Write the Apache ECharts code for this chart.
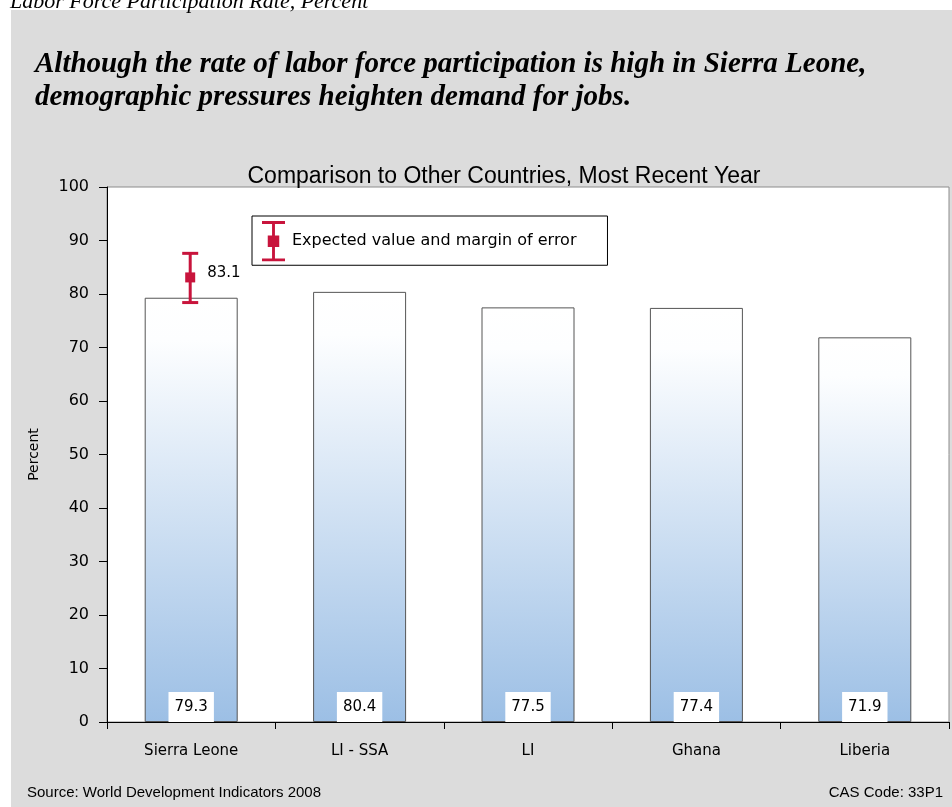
<!DOCTYPE html>
<html>
<head>
<meta charset="utf-8">
<script src="https://cdn.jsdelivr.net/npm/echarts@6/dist/echarts.min.js"></script>
<style>
  html, body { margin: 0; padding: 0; background: #ffffff; }
  #chart { width: 952px; height: 807px; }
</style>
</head>
<body>
<div id="chart"></div>
<script>
// Labor force participation, most recent year
var categories = ['Sierra Leone', 'LI - SSA', 'LI', 'Ghana', 'Liberia'];
var participation = [79.3, 80.4, 77.5, 77.4, 71.9];

// Expected value for Sierra Leone with its margin of error
var expectedValue = [83.1, '-', '-', '-', '-'];
var expectedLow = [78.4, '-', '-', '-', '-'];
var expectedHigh = [87.6, '-', '-', '-', '-'];

var yTicks = { min: 0, max: 100, interval: 10 };

var crimson = '#C8143C';
var labelFont = 'DejaVu Sans';

var errorData = categories.map(function (c, i) {
  return [i, expectedValue[i], expectedLow[i], expectedHigh[i]];
}).filter(function (d) { return d[1] !== '-'; });

// I-beam marker used in the legend
var errorIcon = 'path://M0,0H24V3H0Z M10.5,0H13.5V42H10.5Z M6,15H18V27H6Z M0,39H24V42H0Z';

var chart = echarts.init(document.getElementById('chart'), null, { renderer: 'canvas' });

chart.setOption({
  backgroundColor: '#ffffff',
  animation: false,
  graphic: [
    { type: 'rect', silent: true, z: -10,
      shape: { x: 11, y: 10, width: 941, height: 797 },
      style: { fill: '#DCDCDC' } },
    { type: 'text', left: 10, top: -9, z: 10,
      style: { text: 'Labor Force Participation Rate, Percent',
        font: 'italic 22px "Liberation Serif", "Times New Roman", serif', fill: '#000' } },
    { type: 'text', left: 35, top: 48, z: 10,
      style: { text: 'Although the rate of labor force participation is high in Sierra Leone,\ndemographic pressures heighten demand for jobs.',
        font: 'italic bold 29px "Liberation Serif", "Times New Roman", serif', lineHeight: 33, fill: '#000' } },
    { type: 'text', left: 27, top: 785, z: 10,
      style: { text: 'Source: World Development Indicators 2008',
        font: '15px "Liberation Sans", Arial, sans-serif', fill: '#000' } },
    { type: 'text', right: 9, top: 785, z: 10,
      style: { text: 'CAS Code: 33P1',
        font: '15px "Liberation Sans", Arial, sans-serif', fill: '#000' } }
  ],
  title: {
    text: 'Comparison to Other Countries, Most Recent Year',
    left: 499, top: 160, textAlign: 'center',
    textStyle: { fontFamily: 'Liberation Sans', fontSize: 23, fontWeight: 'normal', color: '#000' }
  },
  legend: {
    left: 252, top: 216,
    padding: [5, 31, 4, 10],
    backgroundColor: '#ffffff',
    borderColor: '#000', borderWidth: 1, borderRadius: 0,
    itemWidth: 23, itemHeight: 42, itemGap: 0,
    selectedMode: false,
    data: [{ name: 'Expected value and margin of error', icon: errorIcon,
      itemStyle: { color: crimson } }],
    textStyle: { fontFamily: labelFont, fontSize: 16, color: '#000', padding: [0, 0, 0, 2] }
  },
  grid: {
    left: 107, right: 3, top: 187, bottom: 85,
    show: true, backgroundColor: '#ffffff', borderColor: '#8c8c8c', borderWidth: 1
  },
  xAxis: {
    type: 'category',
    data: categories,
    axisLine: { lineStyle: { color: '#000', width: 1 } },
    axisTick: { show: true, length: 7, lineStyle: { color: '#000' } },
    axisLabel: { margin: 22, fontFamily: labelFont, fontSize: 15, color: '#000' },
    splitLine: { show: false }
  },
  yAxis: {
    type: 'value',
    min: yTicks.min, max: yTicks.max, interval: yTicks.interval,
    name: 'Percent', nameLocation: 'middle', nameGap: 66, nameRotate: 90,
    nameTextStyle: { fontFamily: labelFont, fontSize: 14, color: '#000' },
    axisLine: { show: true, lineStyle: { color: '#000', width: 1 } },
    axisTick: { show: true, length: 8, lineStyle: { color: '#000' } },
    axisLabel: { margin: 18, fontFamily: labelFont, fontSize: 16, color: '#000' },
    splitLine: { show: false }
  },
  series: [
    {
      name: 'Participation',
      type: 'bar',
      data: participation,
      barWidth: 93,
      itemStyle: {
        borderColor: '#555', borderWidth: 1,
        color: new echarts.graphic.LinearGradient(0, 0, 0, 1, [
          { offset: 0, color: '#ffffff' },
          { offset: 0.1, color: '#fdfeff' },
          { offset: 1, color: '#9CBFE5' }
        ])
      },
      label: {
        show: true, position: 'insideBottom', distance: 0,
        fontFamily: labelFont, fontSize: 15, color: '#000',
        backgroundColor: '#ffffff', padding: [8, 6, 7, 6]
      }
    },
    {
      name: 'Expected value and margin of error',
      type: 'custom',
      data: errorData,
      z: 5,
      encode: { x: 0, y: [1, 2, 3] },
      renderItem: function (params, api) {
        var x = api.value(0);
        var mid = api.coord([x, api.value(1)]);
        var low = api.coord([x, api.value(2)]);
        var high = api.coord([x, api.value(3)]);
        var cx = mid[0] - 1;
        var half = 8;
        var style = { fill: crimson };
        return {
          type: 'group',
          children: [
            { type: 'rect', shape: { x: cx - 1.5, y: high[1], width: 3, height: low[1] - high[1] }, style: style },
            { type: 'rect', shape: { x: cx - half, y: high[1] - 1.5, width: half * 2, height: 3 }, style: style },
            { type: 'rect', shape: { x: cx - half, y: low[1] - 1.5, width: half * 2, height: 3 }, style: style },
            { type: 'rect', shape: { x: cx - 5, y: mid[1] - 5, width: 10, height: 10 }, style: style },
            { type: 'text', x: cx + 17, y: mid[1] - 4,
              style: { text: api.value(1).toFixed(1), fontFamily: labelFont, fontSize: 15,
                fill: '#000', verticalAlign: 'middle', align: 'left' } }
          ]
        };
      }
    }
  ]
});
</script>
</body>
</html>
